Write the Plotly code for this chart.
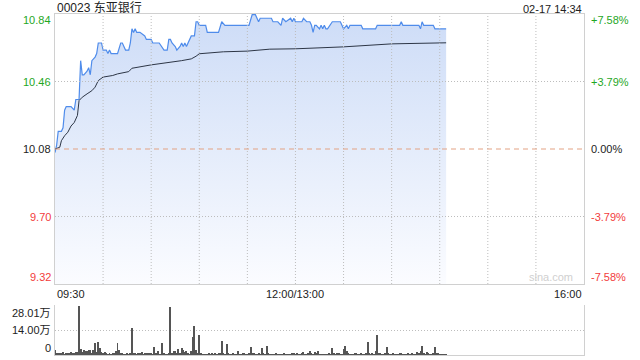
import plotly.graph_objects as go

# ---------------- data ----------------
title_text = "00023 东亚银行"
stamp_text = "02-17 14:34"
prev_close = 10.08
y_min, y_max = 9.316, 10.844
left_tick_vals = [10.844, 10.462, 10.08, 9.698, 9.316]
left_tick_text = ["10.84", "10.46", "10.08", "9.70", "9.32"]
right_tick_text = ["+7.58%", "+3.79%", "0.00%", "-3.79%", "-7.58%"]
x_tick_text = ["09:30", "12:00/13:00", "16:00"]
x_tick_pos = [0, 150, 330]
x_grid_pos = [30, 60, 90, 120, 150, 180, 210, 240, 270, 300]
vol_tick_vals = [0, 14.00, 28.01]
vol_tick_text = ["0", "14.00万", "28.01万"]

# minutes since 09:30 (lunch break collapsed), price
price_min = [0, 1, 2, 4, 5, 6, 7, 10, 12, 13, 15, 16, 17, 18, 20, 21, 22, 23, 25, 26,
             27, 29, 30, 32, 33, 34, 35, 39, 41, 42, 44, 46, 47, 48, 49, 50, 51, 53, 56, 57,
             60, 61, 65, 68, 70, 71, 72, 73, 75, 76, 78, 79, 80, 81, 82, 83, 85, 87, 88, 89,
             90, 94, 95, 102, 104, 106, 121, 123, 125, 127, 128, 135, 136, 139, 141, 142, 144, 147, 148, 149,
             150, 154, 155, 157, 159, 160, 161, 162, 163, 165, 166, 167, 168, 169, 170, 173, 178, 179, 180, 182,
             183, 184, 191, 192, 200, 201, 215, 216, 217, 227, 228, 229, 230, 236, 237, 244]
price_val = [10.06, 10.10, 10.18, 10.18, 10.20, 10.30, 10.32, 10.32, 10.30, 10.36, 10.36, 10.58, 10.50, 10.50, 10.52, 10.54, 10.50, 10.58, 10.60, 10.62,
             10.68, 10.68, 10.64, 10.64, 10.62, 10.64, 10.62, 10.62, 10.68, 10.68, 10.64, 10.64, 10.68, 10.76, 10.74, 10.76, 10.74, 10.74, 10.72, 10.70,
             10.70, 10.68, 10.68, 10.64, 10.64, 10.70, 10.70, 10.68, 10.66, 10.64, 10.66, 10.68, 10.66, 10.68, 10.66, 10.68, 10.72, 10.72, 10.80, 10.80,
             10.78, 10.78, 10.74, 10.74, 10.80, 10.78, 10.78, 10.84, 10.84, 10.80, 10.82, 10.82, 10.80, 10.80, 10.78, 10.82, 10.80, 10.82, 10.80, 10.82,
             10.80, 10.80, 10.82, 10.80, 10.80, 10.78, 10.74, 10.78, 10.78, 10.76, 10.78, 10.76, 10.78, 10.76, 10.76, 10.80, 10.80, 10.78, 10.76, 10.78,
             10.76, 10.78, 10.78, 10.76, 10.76, 10.78, 10.78, 10.80, 10.78, 10.78, 10.76, 10.80, 10.78, 10.78, 10.76, 10.76]

avg_min = [0, 1, 3, 4, 6, 8, 10, 12, 14, 15, 17, 20, 23, 25, 27, 30, 36, 39, 46, 48,
           57, 60, 79, 81, 85, 88, 90, 105, 120, 134, 150, 180, 210, 244]
avg_val = [10.080, 10.084, 10.090, 10.127, 10.155, 10.175, 10.210, 10.230, 10.270, 10.354,
           10.373, 10.392, 10.410, 10.430, 10.467, 10.487, 10.496, 10.505, 10.518, 10.537,
           10.552, 10.556, 10.580, 10.584, 10.590, 10.605, 10.619, 10.630, 10.634, 10.645,
           10.647, 10.658, 10.675, 10.681]

# volume per minute, in 万 shares
volume = [3.0, 1.0, 0.6, 0.8, 1.2, 1.9, 0.5, 0.8, 1.0, 0.6,
          1.8, 0.7, 1.1, 1.5, 1.9, 28.0, 3.4, 1.8, 2.6, 2.0,
          2.2, 2.6, 2.6, 1.4, 2.8, 6.8, 1.6, 7.5, 4.0, 1.5,
          1.2, 1.6, 0.8, 0.5, 0.7, 0.4, 0.6, 1.2, 2.5, 7.0,
          2.6, 1.3, 0.6, 0.4, 0.3, 0.8, 0.4, 0.6, 15.0, 1.0,
          0.7, 0.5, 1.0, 0.6, 1.8, 0.5, 1.0, 0.8, 1.4, 0.6,
          1.3, 0.4, 4.7, 1.0, 2.0, 0.5, 0.4, 6.6, 0.8, 0.5,
          0.4, 0.6, 27.0, 1.2, 2.5, 2.0, 0.7, 3.6, 0.8, 3.8,
          2.8, 1.5, 2.0, 0.8, 0.4, 2.4, 10.0, 16.2, 2.9, 0.6,
          11.5, 0.8, 0.5, 0.3, 0.5, 0.4, 0.6, 0.3, 0.8, 0.5,
          1.0, 0.4, 0.6, 1.0, 7.7, 0.8, 0.5, 6.0, 0.7, 0.5,
          0.4, 0.8, 0.5, 0.4, 2.3, 0.5, 0.3, 0.8, 0.6, 0.5,
          0.4, 0.7, 4.3, 1.4, 0.8, 0.4, 0.3, 0.6, 0.5, 3.8,
          0.7, 0.4, 4.9, 0.6, 0.4, 0.5, 0.3, 0.4, 0.6, 0.3,
          0.5, 0.4, 0.3, 0.6, 0.4, 0.3, 0.5, 0.4, 1.4, 0.8,
          0.5, 0.6, 0.4, 0.3, 0.9, 1.6, 0.5, 0.3, 0.6, 2.4,
          0.8, 0.5, 1.5, 0.6, 2.2, 0.4, 0.3, 0.5, 0.4, 0.3,
          0.5, 0.6, 0.4, 3.8, 0.8, 0.5, 1.0, 0.6, 0.4, 0.5,
          3.4, 4.9, 2.4, 0.6, 0.4, 0.5, 0.3, 1.4, 0.6, 0.4,
          0.5, 0.8, 0.4, 0.3, 1.0, 7.2, 0.6, 0.4, 1.4, 0.5,
          2.0, 11.1, 1.2, 0.8, 0.5, 0.4, 0.6, 4.7, 1.3, 0.5,
          0.4, 0.6, 0.5, 0.4, 0.3, 0.8, 0.6, 0.4, 0.5, 0.3,
          0.6, 0.5, 0.4, 0.7, 0.5, 0.3, 1.8, 0.8, 2.2, 4.9,
          1.0, 0.5, 1.8, 0.6, 0.4, 0.5, 0.7, 4.3, 1.0, 0.8,
          0.5, 0.4, 0.3, 0.4, 0.5]
vol_min = list(range(len(volume)))

# ---------------- style ----------------
FONT = "Liberation Sans, Arial, Noto Sans CJK SC, sans-serif"
GREEN = "#1fa71f"
RED = "#f23c3c"
DARK = "#222222"
GRID = "#bdbdbd"
FRAME = "#d0d0d0"
DOT = "1px,2px"
label_colors = [GREEN, GREEN, DARK, RED, RED]
label_shift = [-6, 0, 0, 0, 7]

fig = go.Figure()

# baseline for the filled area
fig.add_trace(go.Scatter(x=[price_min[0], price_min[-1]], y=[y_min, y_min], mode="lines",
                         line=dict(width=0, color="rgba(0,0,0,0)"), hoverinfo="skip",
                         showlegend=False, xaxis="x", yaxis="y"))
fig.add_trace(go.Scatter(x=price_min, y=price_val, mode="lines", fill="tonexty",
                         fillgradient=dict(type="vertical",
                                           colorscale=[[0, "#fbfcff"], [1, "#cddcf7"]],
                                           start=y_min, stop=y_max),
                         line=dict(color="#4f8ceb", width=1.2), showlegend=False,
                         xaxis="x", yaxis="y"))
fig.add_trace(go.Scatter(x=avg_min, y=avg_val, mode="lines",
                         line=dict(color="#2d3646", width=1), showlegend=False,
                         xaxis="x", yaxis="y"))
fig.add_trace(go.Bar(x=vol_min, y=volume, width=0.6, marker=dict(color="#555555", line=dict(width=0)),
                     showlegend=False, xaxis="x2", yaxis="y2"))

main_dom = [0.2082, 1.0]
vol_dom = [0.0, 0.1466]

fig.update_layout(
    width=640, height=360,
    margin=dict(l=55, r=56, t=14, b=5),
    paper_bgcolor="white", plot_bgcolor="white",
    font=dict(family=FONT, size=11, color=DARK),
    bargap=0,
    xaxis=dict(domain=[0, 1], range=[0, 330], anchor="y",
               showticklabels=False, ticks="", showgrid=False, zeroline=False,
               showline=True, linecolor=FRAME, linewidth=1, mirror=True),
    yaxis=dict(domain=main_dom, range=[y_min, y_max], anchor="x",
               showticklabels=False, ticks="", showgrid=False, zeroline=False,
               showline=True, linecolor=FRAME, linewidth=1, mirror=True),
    xaxis2=dict(domain=[0, 1], range=[0, 330], anchor="y2", showticklabels=False,
                ticks="", showgrid=False, zeroline=False,
                showline=True, linecolor=FRAME, linewidth=1, mirror=False),
    yaxis2=dict(domain=vol_dom, range=[0, 28.3], anchor="x2",
                tickvals=[vol_tick_vals[1], vol_tick_vals[2]], showticklabels=False,
                ticks="", showgrid=True, gridcolor=GRID, griddash=DOT,
                zeroline=False, showline=True, linecolor=FRAME, linewidth=1, mirror=True),
)

# dotted grid drawn over the filled area
for gx in x_grid_pos:
    fig.add_shape(type="line", xref="x", x0=gx, x1=gx, yref="y", y0=y_min, y1=y_max,
                  line=dict(color=GRID, width=1, dash=DOT), layer="above")
for gy in [left_tick_vals[1], left_tick_vals[3]]:
    fig.add_shape(type="line", xref="paper", x0=0, x1=1, yref="y", y0=gy, y1=gy,
                  line=dict(color=GRID, width=1, dash=DOT), layer="above")

# previous close dashed line
fig.add_shape(type="line", xref="paper", x0=0, x1=1, yref="y", y0=prev_close, y1=prev_close,
              line=dict(color="#e3a283", width=1, dash="5px,4px"), layer="above")

ann = []
for v, t, c, s in zip(left_tick_vals, left_tick_text, label_colors, label_shift):
    ann.append(dict(xref="paper", x=0, xanchor="right", xshift=-2, yref="y", y=v,
                    yanchor="middle", yshift=s, text=t, showarrow=False,
                    font=dict(color=c, size=11)))
for v, t, c, s in zip(left_tick_vals, right_tick_text, label_colors, label_shift):
    ann.append(dict(xref="paper", x=1, xanchor="left", xshift=5, yref="y", y=v,
                    yanchor="middle", yshift=s, text=t, showarrow=False,
                    font=dict(color=c, size=11)))
vol_shift = [7, 0, -7]
for v, t, s in zip(vol_tick_vals, vol_tick_text, vol_shift):
    ann.append(dict(xref="paper", x=0, xanchor="right", xshift=-2, yref="y2", y=v,
                    yanchor="middle", yshift=s, text=t, showarrow=False,
                    font=dict(color=DARK, size=11)))
anchors = ["left", "center", "right"]
for p, t, a in zip(x_tick_pos, x_tick_text, anchors):
    ann.append(dict(xref="x", x=p, xanchor=a, yref="paper", y=main_dom[0], yanchor="top",
                    yshift=-2, text=t, showarrow=False, font=dict(color=DARK, size=11)))
ann.append(dict(xref="paper", x=0, xanchor="left", yref="paper", y=1, yanchor="bottom",
                yshift=-3, text=title_text, showarrow=False, font=dict(color=DARK, size=12)))
ann.append(dict(xref="paper", x=1, xanchor="right", yref="paper", y=1, yanchor="bottom",
                yshift=-3, text=stamp_text, showarrow=False, font=dict(color=DARK, size=11)))
ann.append(dict(xref="paper", x=1, xanchor="right", xshift=-9, yref="paper", y=main_dom[0],
                yanchor="bottom", yshift=-1, text="sina.com", showarrow=False,
                font=dict(color="#d0d0d0", size=11)))
fig.update_layout(annotations=ann)

fig.write_html("out.html")
